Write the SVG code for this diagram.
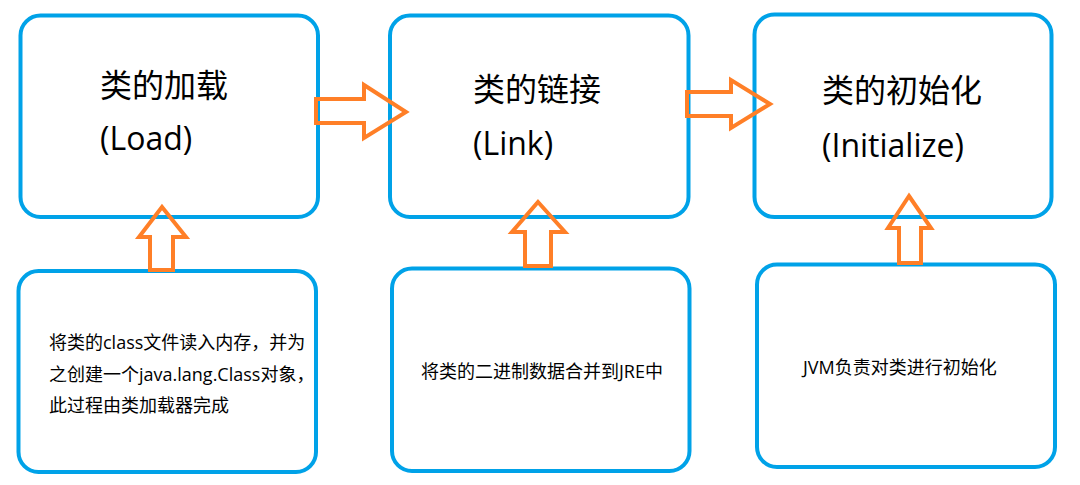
<svg xmlns="http://www.w3.org/2000/svg" width="1080" height="485" viewBox="0 0 1080 485">
  <style>
    .box { fill: #ffffff; stroke: #00A2E8; stroke-width: 4; }
    .arrow { fill: none; stroke: #FF7F27; stroke-width: 4; stroke-linejoin: miter; }
    .title { font-family: "Open Sans", "Noto Sans CJK SC", sans-serif; font-size: 32px; fill: #000000; }
    .desc { font-family: "Open Sans", "Noto Sans CJK SC", sans-serif; font-size: 18px; fill: #000000; }
  </style>
  <rect width="1080" height="485" fill="#ffffff"/>

  <!-- phase boxes -->
  <g id="load">
    <rect class="box" x="20.5" y="15.5" width="297.5" height="201.5" rx="20" ry="20"/>
    <text class="title" x="100" y="97">类的加载</text>
    <text class="title" x="100" y="150">(Load)</text>
  </g>
  <g id="link">
    <rect class="box" x="390" y="15.5" width="298.5" height="201.5" rx="20" ry="20"/>
    <text class="title" x="473" y="101">类的链接</text>
    <text class="title" x="473" y="155">(Link)</text>
  </g>
  <g id="initialize">
    <rect class="box" x="754.5" y="14.5" width="297" height="202.5" rx="20" ry="20"/>
    <text class="title" x="822" y="102">类的初始化</text>
    <text class="title" x="822" y="157">(Initialize)</text>
  </g>

  <!-- description boxes -->
  <g id="load-desc">
    <rect class="box" x="18.5" y="271" width="297.5" height="201" rx="20" ry="20"/>
    <text class="desc" x="49" y="348.5">将类的class文件读入内存，并为</text>
    <text class="desc" x="49" y="380.5">之创建一个java.lang.Class对象，</text>
    <text class="desc" x="49" y="412">此过程由类加载器完成</text>
  </g>
  <g id="link-desc">
    <rect class="box" x="392" y="268.5" width="297.5" height="202.5" rx="20" ry="20"/>
    <text class="desc" x="421" y="378">将类的二进制数据合并到JRE中</text>
  </g>
  <g id="initialize-desc">
    <rect class="box" x="757" y="264.5" width="298" height="202.5" rx="20" ry="20"/>
    <text class="desc" x="803" y="374">JVM负责对类进行初始化</text>
  </g>

  <!-- hollow block arrows -->
  <g id="connectors">
    <path class="arrow" d="M316,99 H364 V85 L406,112 L364,138 V123 H316 Z"/>
    <path class="arrow" d="M687,92 H731 V80 L770,104 L731,128 V116 H687 Z"/>
    <path class="arrow" d="M162,207 L186,237 H173 V270 H150 V237 H139 Z"/>
    <path class="arrow" d="M538,202 L565,232 H551 V266 H525 V232 H512 Z"/>
    <path class="arrow" d="M909,196 L931,228 H921 V263 H899 V228 H888 Z"/>
  </g>
</svg>
